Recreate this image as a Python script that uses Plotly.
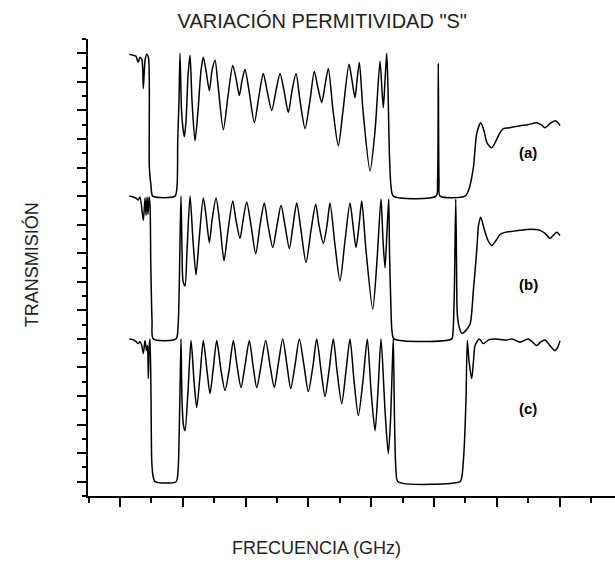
import plotly.graph_objects as go

# ---- data (frequency in GHz, transmission 0..1) ----
freq_a = [1.148,1.207,1.255,1.287,1.318,1.350,1.371,1.398,1.425,1.454,1.467,1.494,1.521,1.876,1.908,1.919,1.939,1.955,1.979,2.003,2.024,2.051,2.083,2.115,2.146,2.194,2.242,2.290,2.326,2.369,2.422,2.465,2.513,2.561,2.645,2.720,2.795,2.847,2.900,2.943,2.990,3.054,3.139,3.213,3.282,3.341,3.416,3.484,3.548,3.611,3.680,3.739,3.803,3.866,3.946,4.025,4.094,4.153,4.212,4.264,4.317,4.392,4.476,4.551,4.646,4.694,4.742,4.774,4.811,4.869,4.981,5.061,5.140,5.172,5.193,5.220,5.247,5.268,5.288,5.315,5.352,6.032,6.056,6.068,6.080,6.096,6.494,6.557,6.626,6.680,6.744,6.796,6.844,6.919,6.987,7.051,7.104,7.210,7.369,7.497,7.635,7.704,7.768,7.847,7.927,7.975,8.006]
trans_a = [0.993,0.986,0.979,0.937,0.972,0.951,0.754,0.951,0.993,0.965,0.197,0.070,0.0,0.0,0.070,0.387,0.669,1.0,0.599,0.472,0.415,0.528,0.845,0.986,0.669,0.387,0.599,0.880,0.972,0.880,0.739,0.880,0.951,0.775,0.465,0.704,0.915,0.824,0.704,0.810,0.887,0.739,0.514,0.704,0.859,0.739,0.599,0.739,0.859,0.739,0.585,0.739,0.859,0.669,0.472,0.669,0.873,0.754,0.655,0.775,0.894,0.599,0.352,0.599,0.923,0.810,0.690,0.810,0.937,0.599,0.176,0.458,0.944,0.739,0.620,0.810,1.0,0.739,0.317,0.070,0.0,0.0,0.106,0.930,0.106,0.0,0.0,0.049,0.197,0.437,0.514,0.458,0.373,0.338,0.387,0.444,0.472,0.479,0.493,0.500,0.514,0.500,0.479,0.507,0.528,0.514,0.493]

freq_b = [1.148,1.207,1.255,1.287,1.318,1.371,1.398,1.414,1.430,1.446,1.462,1.478,1.489,1.510,1.530,1.892,1.924,1.944,1.955,1.971,1.987,2.003,2.035,2.067,2.115,2.162,2.210,2.258,2.326,2.369,2.422,2.465,2.529,2.592,2.656,2.720,2.795,2.847,2.911,2.959,3.017,3.086,3.161,3.229,3.298,3.357,3.432,3.500,3.564,3.627,3.696,3.755,3.814,3.882,3.962,4.041,4.116,4.169,4.237,4.296,4.344,4.424,4.503,4.583,4.662,4.710,4.758,4.806,4.849,4.917,5.024,5.092,5.156,5.188,5.220,5.252,5.279,5.291,5.311,5.331,5.363,6.282,6.303,6.323,6.346,6.358,6.371,6.398,6.441,6.494,6.573,6.626,6.680,6.709,6.744,6.796,6.860,6.919,6.987,7.051,7.131,7.242,7.369,7.529,7.688,7.768,7.847,7.895,7.954,8.006]
trans_b = [1.0,0.993,0.986,0.972,0.993,0.830,0.986,0.866,0.993,0.873,0.993,0.936,0.548,0.124,0.0,0.0,0.088,0.385,0.689,1.0,0.618,0.406,0.371,0.618,1.0,0.689,0.449,0.689,0.986,0.866,0.675,0.830,0.986,0.795,0.548,0.760,0.965,0.830,0.703,0.830,0.958,0.795,0.597,0.795,0.951,0.795,0.640,0.795,0.936,0.795,0.633,0.795,0.951,0.760,0.534,0.760,0.943,0.795,0.668,0.795,0.951,0.654,0.406,0.689,0.951,0.795,0.640,0.795,0.965,0.618,0.208,0.548,0.979,0.689,0.498,0.760,0.979,0.618,0.265,0.053,0.0,0.0,0.053,0.314,0.979,0.548,0.173,0.088,0.039,0.053,0.102,0.336,0.618,0.795,0.852,0.774,0.689,0.654,0.689,0.731,0.746,0.753,0.760,0.767,0.760,0.739,0.703,0.724,0.746,0.724]

freq_c = [1.148,1.207,1.255,1.287,1.318,1.350,1.371,1.398,1.422,1.438,1.451,1.465,1.478,1.494,1.505,1.525,1.557,1.892,1.924,1.944,1.955,1.971,1.987,2.011,2.035,2.083,2.131,2.178,2.221,2.274,2.326,2.385,2.433,2.481,2.540,2.608,2.672,2.736,2.804,2.863,2.927,2.990,3.059,3.118,3.177,3.245,3.320,3.389,3.457,3.516,3.591,3.659,3.718,3.786,3.855,3.930,3.998,4.073,4.132,4.201,4.264,4.328,4.396,4.455,4.530,4.599,4.662,4.726,4.795,4.869,4.938,4.997,5.061,5.108,5.156,5.220,5.272,5.307,5.336,5.352,5.371,5.395,5.427,6.414,6.441,6.478,6.510,6.530,6.557,6.600,6.629,6.653,6.721,6.785,6.876,6.971,7.158,7.237,7.306,7.369,7.433,7.502,7.561,7.635,7.704,7.768,7.847,7.927,7.975,8.006]
trans_c = [1.0,0.995,0.981,0.967,0.981,0.946,0.897,0.988,0.918,0.953,0.722,0.953,1.0,0.568,0.147,0.042,0.0,0.0,0.077,0.378,0.638,1.0,0.568,0.392,0.357,0.638,0.988,0.708,0.519,0.743,0.988,0.778,0.617,0.778,0.988,0.778,0.638,0.778,0.988,0.813,0.659,0.813,0.988,0.813,0.659,0.813,0.988,0.813,0.659,0.813,1.0,0.813,0.652,0.813,1.0,0.813,0.631,0.813,1.0,0.778,0.596,0.778,1.0,0.778,0.547,0.778,1.0,0.708,0.463,0.708,1.0,0.638,0.357,0.638,1.0,0.498,0.196,0.427,0.813,1.0,0.427,0.077,0.0,0.0,0.028,0.217,0.589,0.988,0.848,0.722,0.848,0.953,1.0,0.967,0.995,1.0,0.993,1.0,0.988,0.976,0.988,1.0,0.981,0.953,0.981,0.993,0.953,0.918,0.946,0.988]

labels = ["(a)", "(b)", "(c)"]
offsets = [10.5, 5.5, 0.5]   # vertical stacking of the three curves
scale = 5.0

series = [(freq_a, trans_a), (freq_b, trans_b), (freq_c, trans_c)]

FONT = "Arial, Liberation Sans, sans-serif"

fig = go.Figure()
for (f, t), off in zip(series, offsets):
    fig.add_trace(go.Scatter(
        x=f, y=[off + scale * v for v in t], mode="lines",
        line=dict(color="black", width=1.5, shape="spline", smoothing=0.7),
        showlegend=False, hoverinfo="skip"))

label_x = 7.50
label_y = [12.04, 7.39, 3.08]
for lab, ly in zip(labels, label_y):
    fig.add_annotation(x=label_x, y=ly, text="<b>%s</b>" % lab, showarrow=False,
                       font=dict(family=FONT, size=15, color="black"))

fig.add_annotation(xref="paper", yref="paper", x=-0.108, y=0.505, xanchor="center",
                   yanchor="middle", text="TRANSMISIÓN", textangle=-90, showarrow=False,
                   font=dict(family=FONT, size=18, color="#222"))
fig.add_annotation(xref="paper", yref="paper", x=0.433, y=-0.114, xanchor="center",
                   yanchor="middle", text="FRECUENCIA (GHz)", showarrow=False,
                   font=dict(family=FONT, size=18, color="#222"))

fig.update_layout(
    width=615, height=567,
    margin=dict(l=88, r=0, t=39, b=71),
    paper_bgcolor="white", plot_bgcolor="white",
    title=dict(text='VARIACIÓN PERMITIVIDAD "S"', x=0.524, xanchor="center",
               y=0.963, yanchor="middle", font=dict(family=FONT, size=20, color="#222")),
    xaxis=dict(range=[0.490, 8.882], showgrid=False, zeroline=False, showline=True,
               linecolor="black", linewidth=1.5, ticks="outside", ticklen=9, tickwidth=1.5,
               tickcolor="black", tick0=1, dtick=1, showticklabels=False,
               minor=dict(ticks="outside", ticklen=5, tickwidth=1.5, tickcolor="black",
                          tick0=0.5, dtick=0.5, showgrid=False)),
    yaxis=dict(range=[0, 16], showgrid=False, zeroline=False, showline=True,
               linecolor="black", linewidth=1.5, ticks="outside", ticklen=9, tickwidth=1.5,
               tickcolor="black", tick0=0.5, dtick=1, showticklabels=False,
               minor=dict(ticks="outside", ticklen=4, tickwidth=1.5, tickcolor="black",
                          tick0=0, dtick=0.5, showgrid=False)),
)

fig.write_html("out.html")
